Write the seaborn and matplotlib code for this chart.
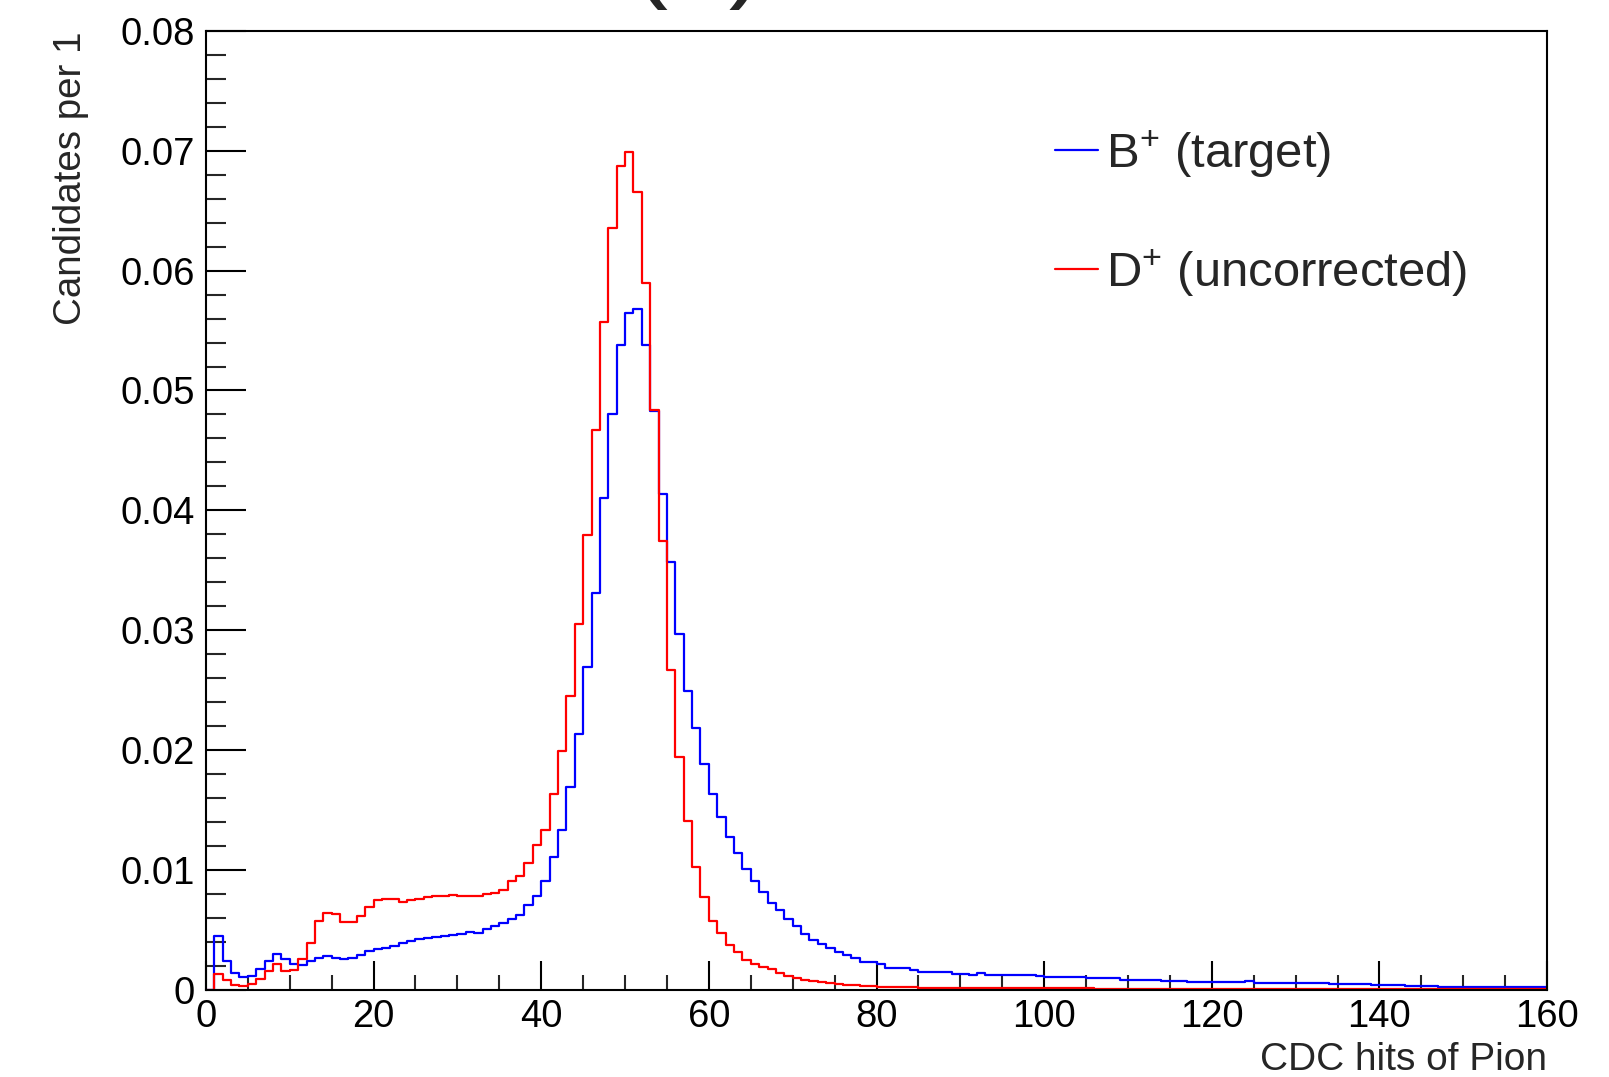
import numpy as np
import pandas as pd
import matplotlib
matplotlib.use("Agg")
import matplotlib.pyplot as plt
import seaborn as sns
from matplotlib.ticker import MultipleLocator, FixedLocator, FixedFormatter

# ---------------- data ----------------
x_range = (0, 160)
bin_width = 1

b_target = [
    0.0, 0.00447, 0.00239, 0.00142, 0.00108, 0.00117, 0.00169, 0.00242, 0.00297, 0.00253,
    0.00211, 0.00203, 0.00236, 0.00261, 0.00283, 0.00261, 0.00256, 0.00267, 0.00285, 0.00324,
    0.00336, 0.00348, 0.00367, 0.00386, 0.00403, 0.00420, 0.00428, 0.00439, 0.00448, 0.00459,
    0.00461, 0.00478, 0.00472, 0.00506, 0.00528, 0.00556, 0.00589, 0.00626, 0.00703, 0.00778,
    0.00909, 0.0111, 0.0133, 0.0169, 0.0213, 0.0269, 0.0331, 0.0410, 0.0480, 0.0538,
    0.0565, 0.0568, 0.0538, 0.0483, 0.0414, 0.0357, 0.0297, 0.0249, 0.0218, 0.0188,
    0.0163, 0.0144, 0.0127, 0.0114, 0.0101, 0.0091, 0.0081, 0.0072, 0.0066, 0.0059,
    0.0053, 0.0046, 0.0041, 0.0038, 0.0035, 0.0031, 0.0029, 0.0026, 0.0023, 0.0023,
    0.0021, 0.0018, 0.0018, 0.0018, 0.0016, 0.0015, 0.0015, 0.0015, 0.0015, 0.0013,
    0.0013, 0.0012, 0.0014, 0.0012, 0.0012, 0.0012, 0.0012, 0.0012, 0.0012, 0.0011,
    0.00103, 0.00103, 0.00103, 0.00108, 0.00108, 0.00095, 0.00095, 0.00095, 0.00095, 0.00080,
    0.00080, 0.00080, 0.00080, 0.00080, 0.00070, 0.00070, 0.00070, 0.00064, 0.00064, 0.00064,
    0.00067, 0.00060, 0.00060, 0.00060, 0.00070, 0.00058, 0.00058, 0.00058, 0.00058, 0.00053,
    0.00053, 0.00053, 0.00053, 0.00053, 0.00047, 0.00047, 0.00047, 0.00047, 0.00047, 0.00042,
    0.00042, 0.00042, 0.00042, 0.00028, 0.00028, 0.00028, 0.00028, 0.00025, 0.00025, 0.00025,
    0.00025, 0.00025, 0.00025, 0.00025, 0.00025, 0.00020, 0.00020, 0.00020, 0.00020, 0.00020,
]

d_uncorrected = [
    0.0, 0.00128, 0.00078, 0.00036, 0.00033, 0.00044, 0.00089, 0.00153, 0.00217, 0.00158,
    0.00167, 0.00253, 0.00389, 0.00572, 0.00642, 0.00628, 0.00567, 0.00561, 0.00617, 0.00685,
    0.00746, 0.00753, 0.00759, 0.00728, 0.00748, 0.00759, 0.00773, 0.00778, 0.00784, 0.00790,
    0.00780, 0.00783, 0.00780, 0.00800, 0.00806, 0.00830, 0.00906, 0.00945, 0.01056, 0.0121,
    0.0133, 0.0163, 0.0199, 0.0245, 0.0305, 0.0379, 0.0467, 0.0557, 0.0636, 0.0687,
    0.0699, 0.0666, 0.0590, 0.0484, 0.0374, 0.0267, 0.0194, 0.0141, 0.0102, 0.0077,
    0.0057, 0.0047, 0.0037, 0.0031, 0.0025, 0.0021, 0.0019, 0.0017, 0.0014, 0.0011,
    0.00094, 0.00083, 0.00072, 0.00064, 0.00056, 0.00047, 0.00042, 0.00040, 0.00033, 0.00028,
    0.00025, 0.00022, 0.00020, 0.00019, 0.00018, 0.00017, 0.00016, 0.00015, 0.00014, 0.00013,
    0.00013, 0.00012, 0.00012, 0.00011, 0.00011, 0.00011, 0.00010, 0.00010, 0.00010, 0.00010,
    0.00010, 0.00009, 0.00009, 0.00009, 0.00009, 0.00009, 0.00008, 0.00008, 0.00008, 0.00008,
    0.00008, 0.00008, 0.00007, 0.00007, 0.00007, 0.00007, 0.00007, 0.00007, 0.00007, 0.00007,
    0.00007, 0.00006, 0.00006, 0.00006, 0.00006, 0.00006, 0.00006, 0.00006, 0.00006, 0.00005,
    0.00005, 0.00005, 0.00005, 0.00005, 0.00005, 0.00005, 0.00005, 0.00005, 0.00005, 0.00005,
    0.00004, 0.00004, 0.00004, 0.00004, 0.00004, 0.00004, 0.00004, 0.00004, 0.00004, 0.00004,
    0.00003, 0.00003, 0.00003, 0.00003, 0.00003, 0.00003, 0.00003, 0.00003, 0.00003, 0.00003,
]

series_labels = ["B$^{+}$ (target)", "D$^{+}$ (uncorrected)"]
y_tick_values = [0.0, 0.01, 0.02, 0.03, 0.04, 0.05, 0.06, 0.07, 0.08]
y_tick_labels = ["0", "0.01", "0.02", "0.03", "0.04", "0.05", "0.06", "0.07", "0.08"]
x_tick_values = [0, 20, 40, 60, 80, 100, 120, 140, 160]
x_tick_labels = ["0", "20", "40", "60", "80", "100", "120", "140", "160"]
x_label = "CDC hits of Pion"
y_label = "Candidates per 1"
title_text = "(a)"

# ---------------- style ----------------
sns.set_theme(style="white")
plt.rcParams["font.family"] = ["Liberation Sans", "DejaVu Sans"]
plt.rcParams["mathtext.fontset"] = "custom"
plt.rcParams["mathtext.rm"] = "Liberation Sans"
plt.rcParams["mathtext.it"] = "Liberation Sans:italic"
plt.rcParams["mathtext.bf"] = "Liberation Sans:bold"

fig = plt.figure(figsize=(16.09, 10.77), dpi=100)
fig.patch.set_facecolor("white")
ax = fig.add_axes([0.128, 0.0812, 0.8335, 0.89])
ax.set_facecolor("white")

n_bins = len(b_target)
centers = np.arange(n_bins) * bin_width + x_range[0] + bin_width / 2

colors = ["#0000ff", "#ff0000"]
for vals, col in zip([b_target, d_uncorrected], colors):
    sub = pd.DataFrame({"x": centers, "w": np.asarray(vals, dtype=float)})
    sns.histplot(data=sub, x="x", weights="w", binwidth=bin_width, binrange=x_range,
                 element="step", fill=False, color=col, linewidth=1.6,
                 ax=ax, stat="count")

ax.set_xlim(*x_range)
ax.set_ylim(0, 0.08)

for s in ax.spines.values():
    s.set_visible(True)
    s.set_color("black")
    s.set_linewidth(1.5)

ax.xaxis.set_major_locator(FixedLocator(x_tick_values))
ax.xaxis.set_major_formatter(FixedFormatter(x_tick_labels))
ax.xaxis.set_minor_locator(MultipleLocator(5))
ax.yaxis.set_major_locator(FixedLocator(y_tick_values))
ax.yaxis.set_major_formatter(FixedFormatter(y_tick_labels))
ax.yaxis.set_minor_locator(MultipleLocator(0.002))

ax.tick_params(axis="x", which="major", direction="in", length=21, width=1.5,
               labelsize=27.5, pad=6.5, colors="black", bottom=True, top=False)
ax.tick_params(axis="x", which="minor", direction="in", length=10.5, width=1.5,
               bottom=True, top=False)
ax.tick_params(axis="y", which="major", direction="in", length=29, width=1.5,
               labelsize=27.5, pad=8, colors="black", left=True, right=False)
ax.tick_params(axis="y", which="minor", direction="in", length=14.5, width=1.5,
               left=True, right=False)

ax.set_xlabel(x_label, fontsize=28, loc="right")
ax.xaxis.set_label_coords(1.0, -0.055)
ax.set_ylabel(y_label, fontsize=27.7, loc="top")
ax.yaxis.set_label_coords(-0.087, 1.0)

handles = ax.lines[:2]
ax.legend(handles=handles, labels=series_labels, loc="upper left",
          bbox_to_anchor=(0.633, 0.899), frameon=False, fontsize=35.3,
          handlelength=0.88, handletextpad=0.16, labelspacing=1.37,
          borderpad=0, borderaxespad=0)

fig.text(0.434, 1.012, title_text, fontsize=80, ha="center", va="baseline")

fig.savefig("out.png", dpi=100, facecolor="white")
